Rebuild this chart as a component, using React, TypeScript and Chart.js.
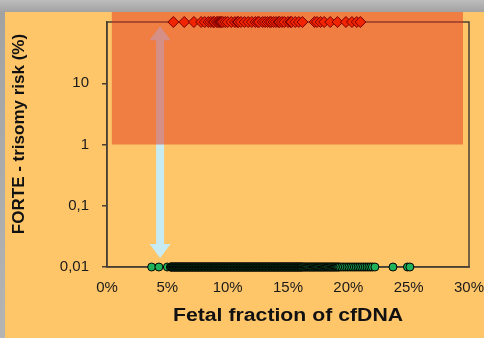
import React, { useEffect, useRef } from 'react';
import { Chart, registerables } from 'chart.js';

Chart.register(...registerables);

// ---- data ----
const xTicks = [0, 5, 10, 15, 20, 25, 30];
const yTicks = [0.01, 0.1, 1, 10, 100];
const yTickLabels = ['0,01', '0,1', '1', '10', ''];
const xTitle = 'Fetal fraction of cfDNA';
const yTitle = 'FORTE - trisomy risk (%)';

const highRiskValue = 100;
const lowRiskValue = 0.01;

// fetal fraction (%) of high-risk samples (red diamonds)
const highRiskFF = [
  5.5, 6.4, 7.2, 7.8, 8.1, 8.4, 8.6, 8.8, 8.9, 9.1, 9.2, 9.3, 9.4, 9.5, 9.6, 9.8,
  10.0, 10.3, 10.6, 10.8, 10.9, 11.1, 11.4, 11.7, 12.0, 12.3, 12.5, 12.6, 12.9, 13.1,
  13.3, 13.5, 13.6, 13.8, 14.0, 14.2, 14.3, 14.5, 14.7, 15.0, 15.2, 15.3, 15.6, 15.9,
  16.2, 17.2, 17.4, 17.7, 18.0, 18.5, 19.1, 19.8, 20.3, 20.7, 21.0,
];

// fetal fraction (%) of low-risk samples (green circles)
const lowRiskFF = [
  3.7, 4.3, 5.0, 5.25, 5.3, 5.35, 5.4, 5.45, 5.5, 5.55, 5.6, 5.65, 5.7, 5.75, 5.8, 5.85,
  5.9, 5.95, 6.0, 6.05, 6.1, 6.15, 6.2, 6.25, 6.3, 6.35, 6.4, 6.45, 6.5, 6.55, 6.6, 6.65,
  6.7, 6.75, 6.8, 6.85, 6.9, 6.95, 7.0, 7.05, 7.1, 7.15, 7.2, 7.25, 7.3, 7.35, 7.4, 7.45,
  7.5, 7.55, 7.6, 7.65, 7.7, 7.75, 7.8, 7.85, 7.9, 7.95, 8.0, 8.05, 8.1, 8.15, 8.2, 8.25,
  8.3, 8.35, 8.4, 8.45, 8.5, 8.55, 8.6, 8.65, 8.7, 8.75, 8.8, 8.85, 8.9, 8.95, 9.0, 9.05,
  9.1, 9.15, 9.2, 9.25, 9.3, 9.35, 9.4, 9.45, 9.5, 9.55, 9.6, 9.65, 9.7, 9.75, 9.8, 9.85,
  9.9, 9.95, 10.0, 10.05, 10.1, 10.15, 10.2, 10.25, 10.3, 10.35, 10.4, 10.45, 10.5,
  10.55, 10.6, 10.65, 10.7, 10.75, 10.8, 10.85, 10.9, 10.95, 11.0, 11.05, 11.1, 11.15,
  11.2, 11.25, 11.3, 11.35, 11.4, 11.45, 11.5, 11.55, 11.6, 11.65, 11.7, 11.75, 11.8,
  11.85, 11.9, 11.95, 12.0, 12.05, 12.1, 12.15, 12.2, 12.25, 12.3, 12.35, 12.4, 12.45,
  12.5, 12.55, 12.6, 12.65, 12.7, 12.75, 12.8, 12.85, 12.9, 12.95, 13.0, 13.05, 13.1,
  13.15, 13.2, 13.25, 13.3, 13.35, 13.4, 13.45, 13.5, 13.55, 13.6, 13.65, 13.7, 13.75,
  13.8, 13.85, 13.9, 13.95, 14.0, 14.05, 14.1, 14.15, 14.2, 14.25, 14.3, 14.35, 14.4,
  14.45, 14.5, 14.55, 14.6, 14.65, 14.7, 14.75, 14.8, 14.85, 14.9, 14.95, 15.0, 15.05,
  15.1, 15.15, 15.2, 15.25, 15.3, 15.35, 15.4, 15.45, 15.5, 15.55, 15.6, 15.65, 15.7,
  15.75, 15.8, 15.85, 15.9, 15.95, 16.0, 16.05, 16.1, 16.15, 16.2, 16.28, 16.35, 16.43,
  16.5, 16.58, 16.65, 16.73, 16.8, 16.88, 16.95, 17.03, 17.1, 17.18, 17.25, 17.33, 17.4,
  17.48, 17.55, 17.63, 17.7, 17.78, 17.85, 17.93, 18.0, 18.08, 18.15, 18.23, 18.3,
  18.38, 18.45, 18.53, 18.6, 18.68, 18.75, 18.83, 18.9, 18.98, 19.05, 19.13, 19.2,
  19.3, 19.45, 19.6, 19.75, 19.9, 20.05, 20.2, 20.35, 20.5, 20.65, 20.8, 20.95, 21.1,
  21.25, 21.4, 21.55, 21.7, 21.85, 22.0, 22.2, 23.7, 24.9, 25.1,
];

// shaded high-risk region
const regionFF = [0.4, 29.5];
const regionRiskFrom = 1;

// double-headed arrow
const arrowFF = 4.4;
const arrowRisk = [0.014, 85];

const FONT = '"Liberation Sans", Arial, sans-serif';
const AXIS = '#4a4036';

const decor = {
  id: 'decor',
  beforeDatasetsDraw(chart: any) {
    const { ctx, chartArea: a, scales } = chart;
    const x = scales.x;
    const y = scales.y;
    ctx.save();
    // frame
    ctx.strokeStyle = AXIS;
    ctx.lineWidth = 1.5;
    ctx.strokeRect(a.left, a.top, a.right - a.left, a.bottom - a.top);

    // arrow
    const ax = x.getPixelForValue(arrowFF);
    const yb = y.getPixelForValue(arrowRisk[0]);
    const yt = y.getPixelForValue(arrowRisk[1]);
    const sw = 4, hw = 10.5, hh = 14;
    ctx.fillStyle = '#c6ebf3';
    ctx.beginPath();
    ctx.moveTo(ax, yt);
    ctx.lineTo(ax + hw, yt + hh);
    ctx.lineTo(ax + sw, yt + hh);
    ctx.lineTo(ax + sw, yb - hh);
    ctx.lineTo(ax + hw, yb - hh);
    ctx.lineTo(ax, yb);
    ctx.lineTo(ax - hw, yb - hh);
    ctx.lineTo(ax - sw, yb - hh);
    ctx.lineTo(ax - sw, yt + hh);
    ctx.lineTo(ax - hw, yt + hh);
    ctx.closePath();
    ctx.fill();

    // high-risk region
    const rx1 = x.getPixelForValue(regionFF[0]);
    const rx2 = x.getPixelForValue(regionFF[1]);
    const ry2 = y.getPixelForValue(regionRiskFrom);
    const ry1 = 12;
    ctx.fillStyle = 'rgba(225,52,28,0.5)';
    ctx.fillRect(rx1, ry1, rx2 - rx1, ry2 - ry1);
    ctx.restore();
  },
  afterDraw(chart: any) {
    const { ctx, chartArea: a } = chart;
    ctx.save();
    ctx.fillStyle = '#111';
    ctx.textAlign = 'center';
    ctx.textBaseline = 'middle';
    // y-axis title
    ctx.save();
    ctx.translate(19, 134);
    ctx.rotate(-Math.PI / 2);
    ctx.font = `bold 17px ${FONT}`;
    ctx.fillText(yTitle, 0, 0);
    ctx.restore();
    // x-axis title
    ctx.save();
    ctx.translate((a.left + a.right) / 2, 316);
    ctx.scale(1.18, 1);
    ctx.font = `bold 18px ${FONT}`;
    ctx.fillText(xTitle, 0, 0);
    ctx.restore();
    ctx.restore();
  },
};

export default function App() {
  const ref = useRef<HTMLCanvasElement>(null);

  useEffect(() => {
    document.body.style.margin = '0';
    if (!ref.current) return;
    const chart = new Chart(ref.current, {
      type: 'scatter',
      data: {
        datasets: [
          {
            data: highRiskFF.map((v) => ({ x: v, y: highRiskValue })),
            pointStyle: 'rectRot',
            pointRadius: 5.5,
            backgroundColor: '#f02400',
            borderColor: '#7a0000',
            borderWidth: 1,
            clip: false,
          } as any,
          {
            data: lowRiskFF.map((v) => ({ x: v, y: lowRiskValue })),
            pointStyle: 'circle',
            pointRadius: 4,
            backgroundColor: '#1fb25a',
            borderColor: '#000',
            borderWidth: 1,
            clip: false,
          } as any,
        ],
      },
      options: {
        responsive: false,
        animation: false,
        layout: { padding: { top: 20, right: 15, left: 0, bottom: 0 } },
        plugins: { legend: { display: false }, tooltip: { enabled: false } },
        scales: {
          x: {
            type: 'linear',
            min: 0,
            max: 30,
            afterBuildTicks: (s: any) => {
              s.ticks = xTicks.map((v) => ({ value: v }));
            },
            ticks: {
              callback: (v: any) => v + '%',
              font: { family: FONT, size: 15 },
              color: '#1a1a1a',
              padding: 12,
              maxRotation: 0,
              autoSkip: false,
            },
            grid: { display: false, drawTicks: false },
            border: { display: true, color: AXIS, width: 1.5 },
            afterFit: (s: any) => {
              s.height = 71;
              s.paddingLeft = 0;
              s.paddingRight = 0;
            },
          } as any,
          y: {
            type: 'logarithmic',
            min: 0.01,
            max: 100,
            afterBuildTicks: (s: any) => {
              s.ticks = yTicks.map((v) => ({ value: v }));
            },
            ticks: {
              callback: (v: any) => {
                const i = yTicks.indexOf(v);
                return i >= 0 ? yTickLabels[i] : '';
              },
              font: { family: FONT, size: 15 },
              color: '#1a1a1a',
              padding: 13,
              autoSkip: false,
            },
            grid: {
              drawOnChartArea: false,
              drawTicks: true,
              tickLength: 5,
              lineWidth: 1.5,
              color: (c: any) => (c.tick && c.tick.value === 100 ? 'rgba(0,0,0,0)' : AXIS),
            },
            border: { display: true, color: AXIS, width: 1.5 },
            afterFit: (s: any) => {
              s.width = 107;
            },
          } as any,
        },
      },
      plugins: [decor],
    });
    return () => chart.destroy();
  }, []);

  return (
    <div
      style={{
        position: 'relative',
        width: 484,
        height: 338,
        overflow: 'hidden',
        background: 'linear-gradient(to bottom, #bdbdbd 0px, #a2a2a2 12px, #b4b4b4 100%)',
      }}
    >
      <div
        style={{
          position: 'absolute',
          left: 5,
          top: 12,
          right: 0,
          bottom: 0,
          background: '#FFC669',
        }}
      />
      <canvas
        ref={ref}
        width={484}
        height={338}
        style={{ position: 'absolute', left: 0, top: 0, width: 484, height: 338 }}
      />
    </div>
  );
}
